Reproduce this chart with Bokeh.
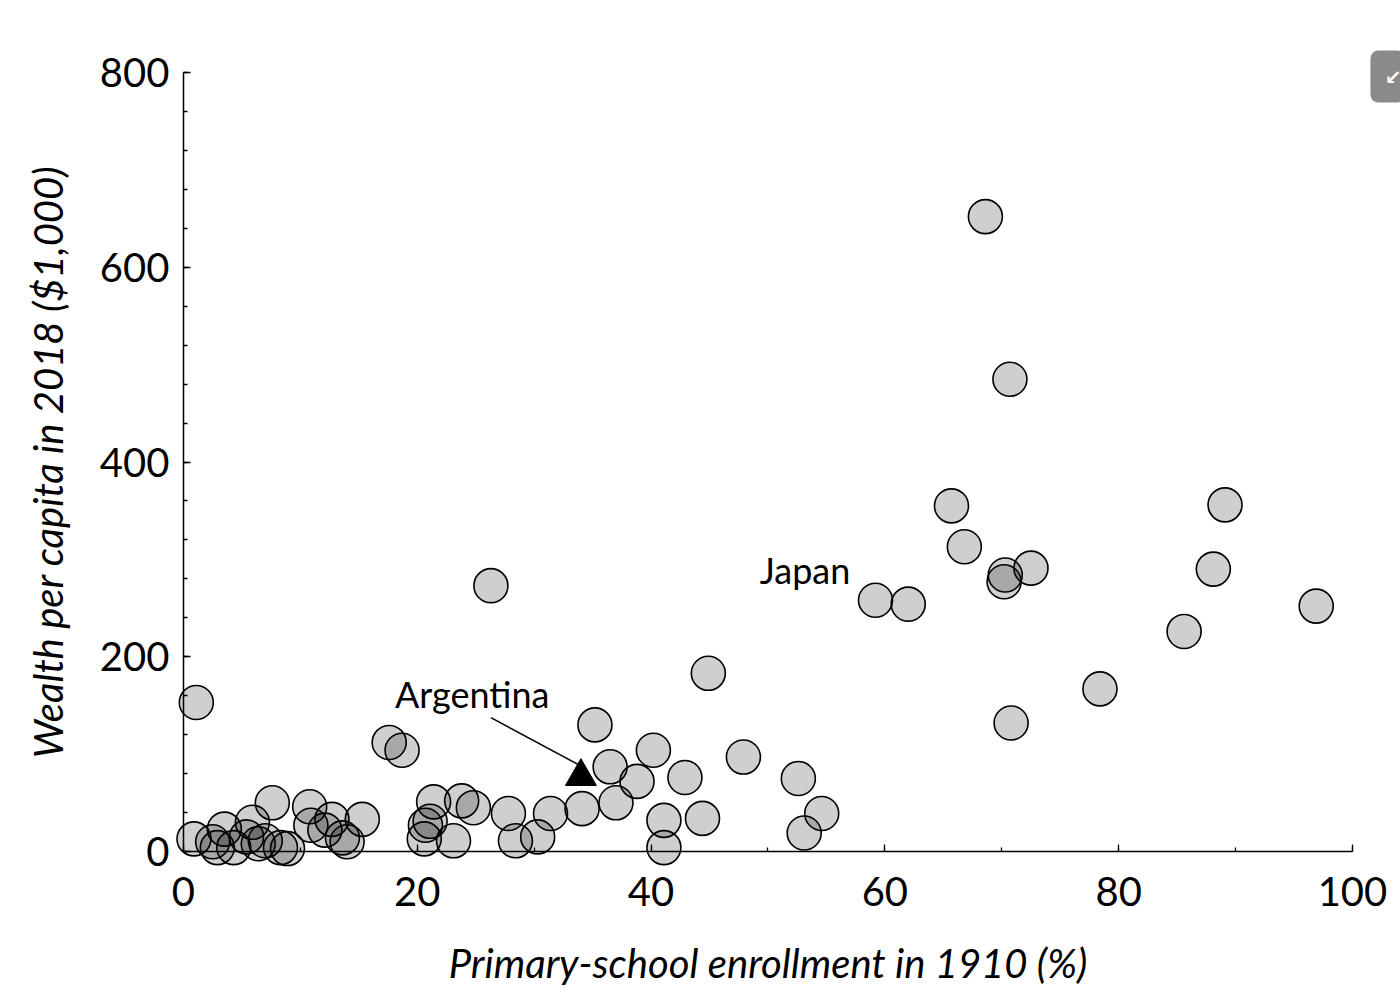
from bokeh.plotting import figure
from bokeh.models import Range1d, SingleIntervalTicker, ColumnDataSource
from bokeh.core.properties import value
from bokeh.embed import file_html
from bokeh.resources import INLINE

# ---- data: primary-school enrollment 1910 (%) vs wealth per capita 2018 ($1,000)
enrollment = [1.1, 0.9, 2.5, 2.9, 3.5, 4.3, 5.9, 5.4, 6.4, 7.0, 7.6, 8.3, 8.9,
              10.8, 10.9, 12.7, 12.1, 13.6, 14.0, 15.3,
              17.6, 18.7, 20.6, 20.7, 21.1, 21.4, 23.1, 23.8, 24.8, 26.3,
              27.8, 28.4, 30.3, 31.4, 34.1,
              35.2, 36.5, 37.0, 38.8, 40.2, 41.1, 41.1, 42.9, 44.4, 44.9,
              47.9, 52.6, 53.1, 54.6,
              59.2, 62.0, 65.7, 66.8, 68.6, 70.2, 70.3, 70.7, 70.8, 72.5,
              78.4, 85.6, 88.1, 89.1, 96.9]
wealth = [153, 13, 10, 4, 23, 4, 30, 15, 8, 11, 50, 4, 3,
          46, 27, 33, 22, 14, 10, 33,
          112, 104, 13, 27, 31, 51, 11, 52, 45, 273,
          39, 11, 15, 39, 44,
          130, 87, 50, 72, 104, 32, 4, 76, 34, 183,
          97, 75, 19, 39,
          258, 254, 355, 313, 652, 277, 284, 485, 132, 291,
          167, 226, 290, 356, 252]

x_ticks_major = 20
y_ticks_major = 200
x_label = "Primary-school enrollment in 1910 (%)"
y_label = "Wealth per capita in 2018 ($1,000)"

# annotations (data coordinates)
argentina_label = ("Argentina", 18.1, 162)
argentina_arrow = (26.3, 137.5, 33.9, 88.5)
argentina_point = (34.0, 77)
japan_label = ("Japan", 49.3, 289)

FONT = "Lato"

p = figure(width=1400, height=1000, output_backend="svg", toolbar_location=None,
           x_range=Range1d(-15.65, 104.11), y_range=Range1d(-153.01, 873.95),
           min_border=0, min_border_left=0, min_border_right=0,
           min_border_top=0, min_border_bottom=0)
p.outline_line_color = None
p.grid.visible = False
p.background_fill_color = "white"
p.border_fill_color = "white"

src = ColumnDataSource(dict(x=enrollment, y=wealth))
p.scatter("x", "y", source=src, size=34, fill_color="black", fill_alpha=0.19,
          line_color="black", line_width=1.6)

# axes
for ax in (p.xaxis[0], p.yaxis[0]):
    ax.fixed_location = 0
    ax.axis_line_color = "black"
    ax.axis_line_width = 1.5
    ax.major_tick_line_color = "black"
    ax.minor_tick_line_color = "black"
    ax.major_tick_line_width = 1.3
    ax.minor_tick_line_width = 1.3
    ax.major_tick_in = 7
    ax.major_tick_out = 0
    ax.minor_tick_in = 4
    ax.minor_tick_out = 0
    ax.major_label_text_font = FONT
    ax.major_label_text_font_size = "40px"
    ax.major_label_text_color = "black"
    ax.axis_label_text_font = FONT
    ax.axis_label_text_font_size = "40px"
    ax.axis_label_text_font_style = "italic"
    ax.axis_label_text_color = "black"

p.xaxis.ticker = SingleIntervalTicker(interval=x_ticks_major, num_minor_ticks=2)
p.yaxis.ticker = SingleIntervalTicker(interval=y_ticks_major, num_minor_ticks=5)
p.xaxis.bounds = (0, 100)
p.yaxis.bounds = (0, 800)
p.xaxis.axis_label = x_label
p.yaxis.axis_label = y_label
p.xaxis.major_label_standoff = 25
p.yaxis.major_label_standoff = 14
p.xaxis.axis_label_standoff = 30
p.yaxis.axis_label_standoff = 25

# annotations
p.text(x=[argentina_label[1]], y=[argentina_label[2]], text=[argentina_label[0]],
       text_font=value(FONT), text_font_size="36px", text_color="black",
       text_baseline="middle", text_align="left")
p.segment(x0=[argentina_arrow[0]], y0=[argentina_arrow[1]],
          x1=[argentina_arrow[2]], y1=[argentina_arrow[3]],
          line_color="black", line_width=1.5)
p.scatter(x=[argentina_point[0]], y=[argentina_point[1]], marker="triangle",
          size=31, fill_color="black", line_color="black")
p.text(x=[japan_label[1]], y=[japan_label[2]], text=[japan_label[0]],
       text_font=value(FONT), text_font_size="36px", text_color="black",
       text_baseline="middle", text_align="left")

# grey expand button at top right of page
p.text(x=[101.54], y=[822.6], text=["\u2199"], text_font=value("DejaVu Sans"),
       text_font_size="20px", text_font_style="bold", text_color="white",
       text_align="left", text_baseline="top", background_fill_color="#8a8a8a",
       border_radius=8, padding=[14, 4, 14, 14])

open("out.html", "w").write(file_html(p, INLINE))
